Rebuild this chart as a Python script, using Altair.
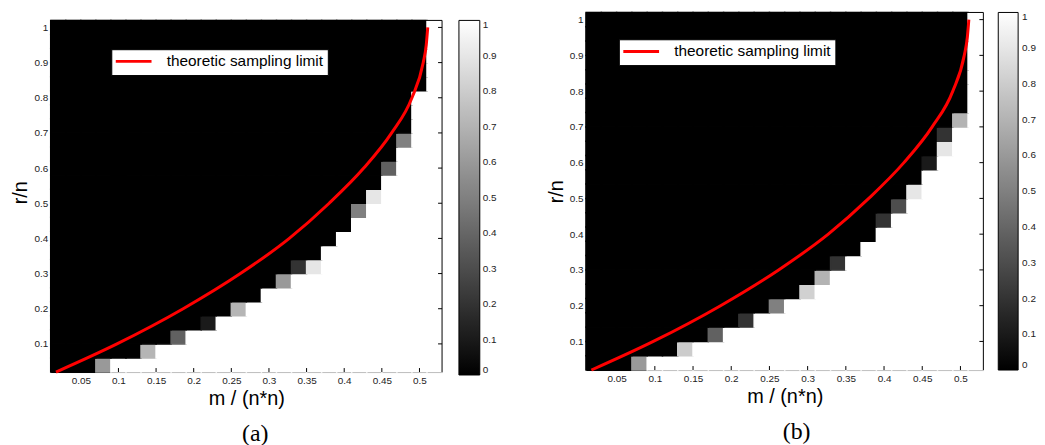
import altair as alt
import pandas as pd

# ---------------- data ----------------
# cell centres of the success-probability grid
M_RATIO = [0.02, 0.04, 0.06, 0.08, 0.10, 0.12, 0.14, 0.16, 0.18, 0.20, 0.22, 0.24, 0.26,
           0.28, 0.30, 0.32, 0.34, 0.36, 0.38, 0.40, 0.42, 0.44, 0.46, 0.48, 0.50, 0.52]
R_RATIO = [0.04, 0.08, 0.12, 0.16, 0.20, 0.24, 0.28, 0.32, 0.36, 0.40, 0.44, 0.48, 0.52,
           0.56, 0.60, 0.64, 0.68, 0.72, 0.76, 0.80, 0.84, 0.88, 0.92, 0.96, 1.00]

X_TICKS = [0.05, 0.1, 0.15, 0.2, 0.25, 0.3, 0.35, 0.4, 0.45, 0.5]
Y_TICKS = [0.1, 0.2, 0.3, 0.4, 0.5, 0.6, 0.7, 0.8, 0.9, 1.0]
CBAR_TICKS = [0, 0.1, 0.2, 0.3, 0.4, 0.5, 0.6, 0.7, 0.8, 0.9, 1.0]
X_DOMAIN = [0.01, 0.53]
Y_DOMAIN = [0.02, 1.02]

# panel (a): per row (r/n), 1-based column of the first fully-successful (white) cell
A_FIRST_WHITE = [5, 8, 10, 12, 14, 15, 17, 19, 19, 20, 21, 22, 23, 23, 24, 24, 25, 25,
                 25, 25, 26, 26, 26, 26, 26]
A_PARTIAL_ROW = [1, 2, 3, 4, 5, 7, 8, 8, 12, 13, 15, 17]
A_PARTIAL_COL = [4, 7, 9, 11, 13, 16, 17, 18, 21, 22, 23, 24]
A_PARTIAL_VAL = [0.6, 0.71, 0.38, 0.1, 0.71, 0.6, 0.2, 0.9, 0.5, 0.9, 0.38, 0.5]

# panel (b)
B_FIRST_WHITE = [5, 8, 10, 12, 14, 16, 17, 18, 19, 20, 21, 22, 23, 23, 24, 25, 25, 26,
                 26, 26, 26, 26, 26, 26, 26]
B_PARTIAL_ROW = [1, 2, 3, 4, 5, 6, 7, 8, 11, 12, 13, 15, 16, 17, 18]
B_PARTIAL_COL = [4, 7, 9, 11, 13, 15, 16, 17, 20, 21, 22, 23, 24, 24, 25]
B_PARTIAL_VAL = [0.6, 0.8, 0.38, 0.2, 0.5, 0.82, 0.7, 0.2, 0.2, 0.3, 0.9, 0.1, 0.9, 0.2, 0.7]

# theoretic sampling limit curve
LIMIT_R = [0.02, 0.1, 0.2, 0.3, 0.4, 0.5, 0.6, 0.7, 0.8, 0.9, 0.95, 1.0]
LIMIT_M = [0.017, 0.098, 0.186, 0.262, 0.327, 0.38, 0.426, 0.463, 0.49, 0.505, 0.509, 0.511]
LEGEND_LABEL = "theoretic sampling limit"

FONT = "Liberation Sans"
SERIF = "Liberation Serif"


def cell_table(first_white, prow, pcol, pval):
    step_m = M_RATIO[1] - M_RATIO[0]
    step_r = R_RATIO[1] - R_RATIO[0]
    partial = {(r, c): v for r, c, v in zip(prow, pcol, pval)}
    recs = []
    for j, r in enumerate(R_RATIO, start=1):
        for i, m in enumerate(M_RATIO, start=1):
            v = partial.get((j, i), 1.0 if i >= first_white[j - 1] else 0.0)
            recs.append({"m0": m - step_m / 2, "m1": m + step_m / 2,
                         "r0": r - step_r / 2, "r1": r + step_r / 2, "value": v})
    return pd.DataFrame(recs)


def panel(df, W, H, y_top, cbar, line_leg, caption, cap_dx, cap_offset, cbar_lab_off):
    xs = alt.Scale(domain=X_DOMAIN, nice=False, zero=False)
    ys = alt.Scale(domain=[Y_DOMAIN[0], y_top], nice=False, zero=False)
    xaxis = alt.Axis(values=X_TICKS, format="~g", ticks=False, grid=False, domain=True,
                     domainColor="black", domainWidth=1, labelFont=FONT, labelFontSize=10,
                     labelColor="#222222", labelPadding=4, labelFlush=False, labelOverlap=False,
                     title="m / (n*n)", titleFont=FONT, titleFontSize=20,
                     titleFontWeight="normal", titleColor="black", titlePadding=3)
    yaxis = alt.Axis(values=Y_TICKS, format="~g", ticks=False, grid=False, domain=False,
                     labelFont=FONT, labelFontSize=10, labelColor="#222222", labelPadding=3,
                     labelFlush=False, labelOverlap=False,
                     title="r/n", titleFont=FONT, titleFontSize=20,
                     titleFontWeight="normal", titleColor="black", titlePadding=3)

    def X(f):
        return alt.X(f, type="quantitative", scale=xs, axis=xaxis)

    def Y(f):
        return alt.Y(f, type="quantitative", scale=ys, axis=yaxis)

    gray = alt.Scale(domain=[0, 1], range=["#000000", "#ffffff"], interpolate="rgb")

    heat = alt.Chart(df).mark_rect(strokeWidth=1.5).encode(
        x=X("m0"), x2="m1", y=Y("r0"), y2="r1",
        color=alt.Color("value:Q", scale=gray, legend=alt.Legend(
            orient="none", legendX=cbar[0], legendY=cbar[1], direction="vertical",
            gradientLength=cbar[2], gradientThickness=cbar[3], title=None,
            values=CBAR_TICKS, format="~g", labelFont=FONT, labelFontSize=10,
            labelColor="#222222", labelOffset=cbar_lab_off, labelOverlap=False,
            gradientStrokeColor="black", gradientStrokeWidth=1, padding=0)),
        stroke=alt.Stroke("value:Q", scale=gray, legend=None),
    )

    curve_df = pd.DataFrame({"m": LIMIT_M, "r": LIMIT_R, "series": LEGEND_LABEL})
    line = alt.Chart(curve_df).mark_line(strokeWidth=3, interpolate="monotone").encode(
        x=X("m"), y=Y("r"),
        stroke=alt.Stroke("series:N", scale=alt.Scale(domain=[LEGEND_LABEL], range=["#ff0000"]),
                          legend=alt.Legend(
                              orient="none", legendX=line_leg[0], legendY=line_leg[1],
                              title=None, symbolType="M-3,0H3", symbolSize=144,
                              symbolStrokeWidth=3, symbolOffset=10.25,
                              symbolFillColor="transparent", labelOffset=25.5,
                              labelFont=FONT, labelFontSize=15.5, labelColor="black",
                              labelLimit=400, fillColor="white", strokeColor="black",
                              padding=4.5)),
    )

    frame_df = pd.DataFrame({
        "x": [X_DOMAIN[0], X_DOMAIN[0], X_DOMAIN[1]],
        "x2": [X_DOMAIN[1], X_DOMAIN[0], X_DOMAIN[1]],
        "y": [Y_DOMAIN[1], Y_DOMAIN[0], Y_DOMAIN[0]],
        "y2": [Y_DOMAIN[1], Y_DOMAIN[1], Y_DOMAIN[1]],
    })
    frame = alt.Chart(frame_df).mark_rule(color="black", strokeWidth=1).encode(
        x=X("x"), x2="x2", y=Y("y"), y2="y2")

    bt = alt.Chart(pd.DataFrame({"t": X_TICKS})).mark_rule(color="black", strokeWidth=1).encode(
        x=X("t"), y=alt.value(H), y2=alt.value(H - 4))
    rt = alt.Chart(pd.DataFrame({"t": Y_TICKS})).mark_rule(color="black", strokeWidth=1).encode(
        y=Y("t"), x=alt.value(W), x2=alt.value(W - 4))

    return alt.layer(heat, line, frame, bt, rt).resolve_scale(stroke="independent").properties(
        width=W, height=H,
        title=alt.TitleParams(caption, orient="bottom", anchor="middle", font=SERIF,
                              fontSize=24, fontWeight="normal", color="black",
                              offset=cap_offset, dx=cap_dx),
    )


df_a = cell_table(A_FIRST_WHITE, A_PARTIAL_ROW, A_PARTIAL_COL, A_PARTIAL_VAL)
df_b = cell_table(B_FIRST_WHITE, B_PARTIAL_ROW, B_PARTIAL_COL, B_PARTIAL_VAL)

# panel (a) plot box is 8px lower than (b): extend its y range upward by 8px worth
pa = panel(df_a, 394, 362, Y_DOMAIN[1] + 8 / 354, (411, 8, 357, 21), (61, 37),
           "(a)", 9, 13, 3)
pb = panel(df_b, 400, 360, Y_DOMAIN[1], (415, 0, 360, 20), (33, 27),
           "(b)", 12, 13, 4)

chart = alt.hconcat(pa, pb, spacing=145, bounds="flush").resolve_scale(
    color="independent", stroke="independent").resolve_legend(
    color="independent", stroke="independent").configure_view(
    stroke="transparent").properties(padding={"left": 2, "top": 1, "right": 0, "bottom": 0})

chart.save("out.html", embed_options={"renderer": "svg", "actions": False})
